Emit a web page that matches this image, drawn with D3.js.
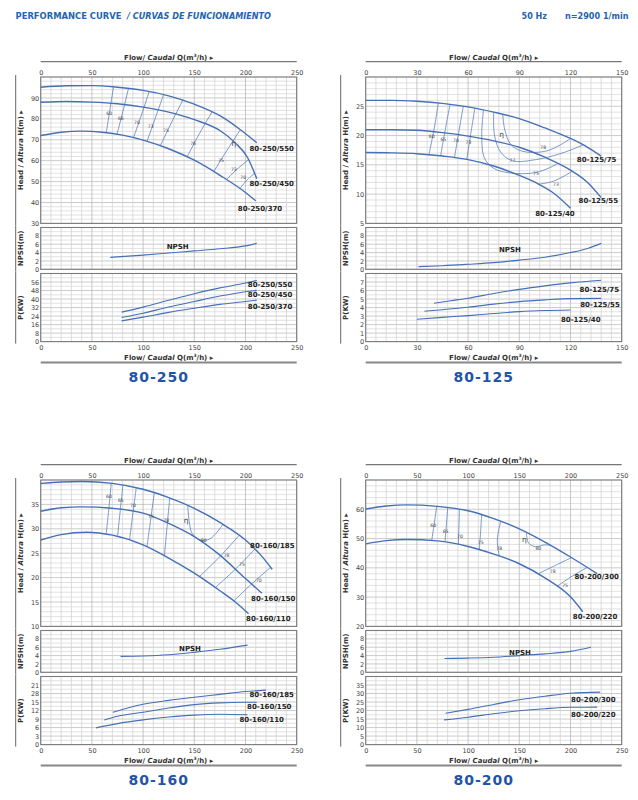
<!DOCTYPE html>
<html><head><meta charset="utf-8">
<script src="https://cdn.jsdelivr.net/npm/d3@7"></script>
<style>body{margin:0;background:#fff}svg{display:block}</style>
</head><body>
<svg id="c" width="638" height="800"></svg>
<script>
// ---------- tick labels ----------
const flowTicks250 = [0,50,100,150,200,250];
const flowTicks150 = [0,30,60,90,120,150];
const npshTicks = [0,2,4,6,8];
const headTicks_250 = [30,40,50,60,70,80,90];
const headTicks_125 = [5,10,15,20,25];
const headTicks_160 = [10,15,20,25,30,35];
const headTicks_200 = [20,30,40,50,60];
const powerTicks_250 = [0,8,16,24,32,40,48,56];
const powerTicks_125 = [0,1,2,3,4,5,6,7];
const powerTicks_160 = [0,3,6,9,12,15,18,21];
const powerTickLabels_160 = ["0","3","6","9","12","15","28","21"];
const powerTicks_200 = [0,5,10,15,20,25,30,35];

// ---------- 80-250 ----------
const names_250 = ["80-250/550","80-250/450","80-250/370"];
const head_250_550 = [[0,95.1],[25,95.8],[50,95.9],[75,95.1],[100,93.6],[125,91],[150,87],[175,81.5],[195,74.8],[211,68.6]];
const head_250_450 = [[0,87.9],[25,88.3],[50,88],[75,87.2],[100,85.6],[125,83.2],[150,79.6],[175,74.4],[190,68.5],[202,61.5],[211,51.4]];
const head_250_370 = [[0,72],[20,73.6],[40,74.1],[60,73.6],[80,72.2],[100,69.8],[125,65.7],[150,60.2],[175,53],[200,44.8],[210,40.8]];
const npsh_250 = [[68,2.86],[100,3.4],[125,3.9],[150,4.4],[175,4.9],[200,5.6],[211,6.2]];
const power_250_550 = [[79,27.7],[100,32.4],[125,38.8],[150,45],[175,50.5],[200,55],[211,57.5]];
const power_250_450 = [[79,22.6],[100,26.7],[125,32.5],[150,37.7],[175,42.8],[200,46.9],[211,48.1]];
const power_250_370 = [[79,19.5],[100,23],[125,27.5],[150,31.4],[175,35],[200,37.7],[211,39]];
const eff_250 = [
  [[71.1,95.3],[67.5,84],[64,73.4]],
  [[85.8,94.7],[80.3,83.5],[74.4,72.5]],
  [[106,93.1],[98.5,82],[90.7,71.1]],
  [[120,91.5],[112,80.5],[103.8,69.2]],
  [[139,89.1],[128,78.5],[116.8,67.1]],
  [[167.4,83.3],[155,73],[143,61.8]],
  [[195,74.8],[182,65],[169,54.8]],
  [[203,60.5],[192,56],[181.5,51]],
  [[209,54],[202,51],[194.5,46.6]]
];
const effLabels_250 = [[66.9,82.4,"60"],[78.3,80.3,"66"],[94,78.3,"70"],[107.4,76.3,"73"],[122.4,74.3,"75"],[148.8,68.4,"76"],[176.2,60.2,"75"],[188.6,55.9,"73"],[197.8,51.9,"70"],[188.6,68.4,"η"]];

// ---------- 80-125 ----------
const names_125 = ["80-125/75","80-125/55","80-125/40"];
const head_125_75 = [[0,26],[15,26],[30,25.85],[45,25.5],[60,24.9],[75,24],[90,22.9],[105,21.3],[120,19.5],[130,18],[138,16.5]];
const head_125_55 = [[0,21],[15,21],[30,20.9],[45,20.5],[60,19.9],[75,19.1],[90,18],[105,16.3],[120,14.1],[130,12],[138,9.4]];
const head_125_40 = [[0,17.1],[15,17.05],[30,16.9],[45,16.5],[60,15.9],[75,14.8],[90,13.2],[100,11.9],[110,10.2],[120,7.6]];
const npsh_125 = [[31,0.63],[45,0.85],[60,1.2],[75,1.6],[90,2.2],[105,2.9],[120,4],[130,5],[138,6.2]];
const power_125_75 = [[40,4.5],[50,4.8],[60,5.1],[75,5.65],[90,6.14],[105,6.55],[120,6.9],[138,7.2]];
const power_125_55 = [[34.4,3.56],[45,3.75],[60,4.03],[75,4.4],[90,4.7],[105,4.9],[120,5.05],[138,5.08]];
const power_125_40 = [[30,2.62],[45,2.85],[60,3.05],[75,3.3],[90,3.52],[105,3.65],[120,3.72]];
const eff_125 = [
  [[42.6,25.6],[40,21],[37.1,16.8]],
  [[49.4,25.3],[46.5,20.8],[43.9,16.6]],
  [[57.2,25],[54.5,20.5],[52,16.2]],
  [[64,24.7],[61.5,20.2],[59.2,15.9]],
  [[69,24.4],[68,20],[69.5,16.2],[75,14.4],[85,13.6],[100,13.7],[112,15.1]],
  [[75,24],[75.5,20],[79,17.2],[86,15.7],[100,15.9],[115,17],[127.5,18.4]],
  [[80.3,23.6],[81.5,21],[85,18.5],[92,17.3],[105,17.3],[114,18.4],[120,19.5]],
  [[101,11.7],[110,12.2],[121,13.9]]
];
const effLabels_125 = [[38.7,19.9,"60"],[45.5,19.3,"65"],[52.9,19.2,"70"],[60.2,18.75,"73"],[104,17.9,"78"],[86,15.8,"77"],[99.8,13.6,"75"],[111.5,11.7,"73"],[79.7,20.2,"η"]];

// ---------- 80-160 ----------
const names_160 = ["80-160/185","80-160/150","80-160/110"];
const head_160_185 = [[0,39.3],[20,39.6],[40,39.7],[70,39.3],[100,38.1],[125,36.4],[150,34.2],[175,31.3],[200,27.7],[215,24.6],[226,21.7]];
const head_160_150 = [[0,33.6],[20,34.3],[40,34.5],[70,34.2],[100,33.2],[125,31.1],[150,28.4],[175,24.6],[200,19.8],[216,16.8]];
const head_160_110 = [[0,27.7],[20,28.8],[45,29.3],[70,28.7],[100,26.7],[125,24],[150,20.9],[175,17.3],[190,15],[203,12.6]];
const npsh_160 = [[78,3.8],[100,3.9],[125,4.2],[150,4.8],[175,5.5],[202,6.5]];
const power_160_185 = [[70.5,11.4],[85,12.9],[100,14.2],[125,15.6],[150,16.7],[175,17.7],[200,18.7],[220,19.2]];
const power_160_150 = [[62,8.7],[75,10],[100,11.4],[125,12.9],[150,14.1],[175,14.7],[200,14.9],[211,14.9]];
const power_160_110 = [[54,5.9],[75,7.4],[100,8.7],[125,9.7],[150,10.4],[175,10.7],[202,10.5]];
const eff_160 = [
  [[68.9,39.35],[66.5,34],[64,29]],
  [[80.3,39],[77.7,33.8],[75.1,28.6]],
  [[93.3,38.4],[90,33.1],[86.8,27.8]],
  [[111,37.4],[107.4,31.9],[103.8,26.3]],
  [[126,36.3],[123.4,30.4],[120.8,24.5]],
  [[143.6,34.8],[145,31.5],[148,29],[155,27.8],[165,27.9],[178,30.9]],
  [[155,20.2],[175,24.3],[193.5,28.6]],
  [[170.7,18],[190,21.7],[209,25.8]],
  [[188.6,15.2],[205,18.5],[224.5,22.1]]
];
const effLabels_160 = [[66.6,36.7,"60"],[78.3,35.7,"65"],[90.1,34.7,"70"],[107.7,32.6,"75"],[122.7,31.6,"78"],[159.3,27.7,"80"],[181.5,24.6,"78"],[196.5,22.6,"75"],[213,19.5,"70"],[142,31.7,"η"]];

// ---------- 80-200 ----------
const names_200 = ["80-200/300","80-200/220"];
const head_200_300 = [[0,60.1],[20,61.1],[40,61.5],[70,61],[100,59.5],[125,56.8],[150,53.3],[175,48.8],[200,43.7],[226,38]];
const head_200_220 = [[0,48.2],[20,49.3],[40,49.7],[70,49.2],[100,47.3],[125,44.7],[150,41.4],[175,36.6],[200,30.1],[212,25]];
const npsh_200 = [[77,3.3],[100,3.4],[125,3.6],[150,4],[175,4.4],[200,5],[220,6]];
const power_200_300 = [[78,18.4],[100,20.7],[125,23.6],[150,26.3],[175,28.4],[200,30.2],[229,30.8]];
const power_200_220 = [[76.5,14.5],[100,16.1],[125,18.1],[150,19.9],[175,21.1],[200,21.9],[226,22]];
const eff_200 = [
  [[69.3,61],[67,55.2],[64.5,49.4]],
  [[80.1,60.6],[78.8,54.8],[77.5,49]],
  [[91.5,60],[91,53.9],[90.5,47.9]],
  [[113.3,58.3],[112.2,52.3],[111,46.2]],
  [[131.8,55.9],[128.5,49.4],[130.5,44]],
  [[157,51.8],[159,48.5],[166,47.2],[174,47.8],[181,47.7]],
  [[168.6,38],[185,40.8],[201,43.5]],
  [[186.5,33.6],[200,36.8],[216,40.1]]
];
const effLabels_200 = [[66,54.5,"60"],[78,52.5,"65"],[92,50.7,"70"],[112.3,48.7,"75"],[130.5,46.7,"78"],[168.6,46.5,"80"],[182.6,38.6,"78"],[194.7,33.8,"75"],[155,49.6,"η"]];

// ---------- panel layout ----------
const panels = [
  {title:"80-250", left:40.7, top:77, xDomain:[0,250], xTicks:flowTicks250,
   headDomain:[30,100], headTicks:headTicks_250, headStep:2,
   powerDomain:[0,64], powerTicks:powerTicks_250, powerLabels:powerTicks_250.map(String), powerStep:4,
   heads:[head_250_550,head_250_450,head_250_370], names:names_250,
   headLabelPos:[[225.6,65.4],[225.6,48.7],[214.2,36.7]],
   npsh:npsh_250, npshLabelPos:[133.8,5.3],
   powers:[power_250_550,power_250_450,power_250_370], powerLabelPos:[[224,52.9],[224,43.5],[224,32.2]],
   eff:eff_250, effLabels:effLabels_250},
  {title:"80-125", left:365.7, top:77, xDomain:[0,150], xTicks:flowTicks150,
   headDomain:[5,30], headTicks:headTicks_125, headStep:1,
   powerDomain:[0,8], powerTicks:powerTicks_125, powerLabels:powerTicks_125.map(String), powerStep:0.5,
   heads:[head_125_75,head_125_55,head_125_40], names:names_125,
   headLabelPos:[[135.3,15.8],[136.3,8.8],[110.9,6.6]],
   npsh:npsh_125, npshLabelPos:[84.5,4.6],
   powers:[power_125_75,power_125_55,power_125_40], powerLabelPos:[[136.9,6.05],[137.3,4.26],[126,2.54]],
   eff:eff_125, effLabels:effLabels_125},
  {title:"80-160", left:40.7, top:480, xDomain:[0,250], xTicks:flowTicks250,
   headDomain:[10,40], headTicks:headTicks_160, headStep:1,
   powerDomain:[0,24], powerTicks:powerTicks_160, powerLabels:powerTickLabels_160, powerStep:1.5,
   heads:[head_160_185,head_160_150,head_160_110], names:names_160,
   headLabelPos:[[226.2,26.5],[227.1,15.55],[222.3,11.5]],
   npsh:npsh_160, npshLabelPos:[145.8,5.65],
   powers:[power_160_185,power_160_150,power_160_110], powerLabelPos:[[225.6,17.4],[223.2,13.2],[215.8,8.6]],
   eff:eff_160, effLabels:effLabels_160},
  {title:"80-200", left:365.7, top:480, xDomain:[0,250], xTicks:flowTicks250,
   headDomain:[20,70], headTicks:headTicks_200, headStep:2,
   powerDomain:[0,40], powerTicks:powerTicks_200, powerLabels:powerTicks_200.map(String), powerStep:2.5,
   heads:[head_200_300,head_200_220], names:names_200,
   headLabelPos:[[225.6,36.8],[224,23.3]],
   npsh:npsh_200, npshLabelPos:[150.7,4.7],
   powers:[power_200_300,power_200_220], powerLabelPos:[[222.3,26.2],[222.3,17.5]],
   eff:eff_200, effLabels:effLabels_200}
];

const svg = d3.select("#c");
const W = 256;
const FONT = "'DejaVu Sans', Verdana, sans-serif";
const BLUE = "#4570b6";

// header
const hdr = svg.append("g").attr("font-family", FONT).attr("font-weight","bold").attr("fill","#2364b4").attr("font-size",9);
hdr.append("text").attr("x",15.5).attr("y",19).attr("textLength",106).attr("lengthAdjust","spacingAndGlyphs").text("PERFORMANCE CURVE");
hdr.append("text").attr("x",127).attr("y",19).attr("font-style","italic").attr("textLength",144).attr("lengthAdjust","spacingAndGlyphs").text("/ CURVAS DE FUNCIONAMIENTO");
hdr.append("text").attr("x",521.6).attr("y",19).attr("textLength",25.4).attr("lengthAdjust","spacingAndGlyphs").text("50 Hz");
hdr.append("text").attr("x",565).attr("y",19).attr("textLength",63.6).attr("lengthAdjust","spacingAndGlyphs").text("n=2900 1/min");

function flowTitle(g, cx, y){
  const t = g.append("text").attr("x",cx).attr("y",y).attr("text-anchor","middle")
    .attr("font-family",FONT).attr("font-size",7).attr("font-weight","bold").attr("fill","#333");
  t.append("tspan").text("Flow/ ");
  t.append("tspan").attr("font-style","italic").text("Caudal");
  t.append("tspan").text(" Q(m");
  t.append("tspan").attr("font-size",4.5).attr("dy",-2.5).text("3");
  t.append("tspan").attr("dy",2.5).text("/h) ▸");
}

function draw(p){
  const g = svg.append("g");
  const x = d3.scaleLinear().domain(p.xDomain).range([p.left, p.left+W]);
  const cx = p.left + W/2;
  const subs = [
    {top:p.top, bottom:p.top+146.4, domain:p.headDomain, ticks:p.headTicks, labels:p.headTicks.map(String), step:p.headStep, kind:"head"},
    {top:p.top+150.5, bottom:p.top+192.3, domain:[0,10], ticks:npshTicks, labels:npshTicks.map(String), step:1, kind:"npsh"},
    {top:p.top+196.5, bottom:p.top+264.6, domain:p.powerDomain, ticks:p.powerTicks, labels:p.powerLabels, step:p.powerStep, kind:"power"}
  ];
  const xs = d3.range(0,26).map(i => p.xDomain[0] + i*(p.xDomain[1]-p.xDomain[0])/25);
  subs.forEach(s => {
    s.y = d3.scaleLinear().domain(s.domain).range([s.bottom, s.top]);
    const n = Math.round((s.domain[1]-s.domain[0])/s.step);
    const ys = d3.range(0,n+1).map(i => s.domain[0] + i*s.step);
    const gg = g.append("g");
    gg.selectAll("line.h").data(ys).join("line")
      .attr("x1",p.left).attr("x2",p.left+W)
      .attr("y1",d=>s.y(d)).attr("y2",d=>s.y(d))
      .attr("stroke",d=> s.ticks.some(t=>Math.abs(t-d)<1e-6) ? "#b4b4b4" : "#d6d6d6")
      .attr("stroke-width",0.7);
    gg.selectAll("line.v").data(xs).join("line")
      .attr("y1",s.top).attr("y2",s.bottom)
      .attr("x1",d=>x(d)).attr("x2",d=>x(d))
      .attr("stroke",d=> p.xTicks.some(t=>Math.abs(t-d)<1e-6) ? "#b0b0b0" : "#d0d0d0")
      .attr("stroke-width",0.7);
    gg.append("rect").attr("x",p.left).attr("y",s.top).attr("width",W).attr("height",s.bottom-s.top)
      .attr("fill","none").attr("stroke","#7c7c7c").attr("stroke-width",1.1);
    const ax = g.append("g").attr("transform",`translate(${p.left},0)`)
      .call(d3.axisLeft(s.y).tickValues(s.ticks).tickFormat((d,i)=>s.labels[i]).tickSize(0).tickPadding(1.5));
    ax.select(".domain").remove();
    ax.selectAll("text").attr("font-family",FONT).attr("font-size",6.5).attr("fill","#444");
    g.append("line").attr("x1",p.left-25).attr("x2",p.left-25).attr("y1",s.top-2).attr("y2",s.bottom+2)
      .attr("stroke","#666").attr("stroke-width",1);
    const tt = g.append("text").attr("transform",`translate(${p.left-18},${(s.top+s.bottom)/2}) rotate(-90)`)
      .attr("text-anchor","middle").attr("font-family",FONT).attr("font-size",7).attr("font-weight","bold").attr("fill","#333");
    if (s.kind==="head"){
      tt.append("tspan").text("Head / ");
      tt.append("tspan").attr("font-style","italic").text("Altura");
      tt.append("tspan").text(" H(m) ▸");
    } else if (s.kind==="npsh"){
      tt.text("NPSH(m)");
    } else {
      tt.text("P(KW)");
    }
  });
  const [H, N, P] = subs;
  const at = g.append("g").attr("transform",`translate(0,${p.top})`)
    .call(d3.axisTop(x).tickValues(p.xTicks).tickSize(0).tickPadding(2));
  at.select(".domain").remove();
  at.selectAll("text").attr("font-family",FONT).attr("font-size",6.5).attr("fill","#444");
  const ab = g.append("g").attr("transform",`translate(0,${P.bottom})`)
    .call(d3.axisBottom(x).tickValues(p.xTicks).tickSize(0).tickPadding(3.5));
  ab.select(".domain").remove();
  ab.selectAll("text").attr("font-family",FONT).attr("font-size",6.5).attr("fill","#444");
  flowTitle(g, cx, p.top-17.5);
  g.append("line").attr("x1",p.left).attr("x2",p.left+W).attr("y1",p.top-15.3).attr("y2",p.top-15.3).attr("stroke","#777").attr("stroke-width",1.2);
  flowTitle(g, cx, P.bottom+18.3);
  g.append("line").attr("x1",p.left).attr("x2",p.left+W).attr("y1",P.bottom+21).attr("y2",P.bottom+21).attr("stroke","#888").attr("stroke-width",2);
  g.append("text").attr("x",cx-10).attr("y",P.bottom+40).attr("text-anchor","middle")
    .attr("font-family",FONT).attr("font-weight","bold").attr("font-size",14).attr("letter-spacing",1)
    .attr("fill","#1f55a8").text(p.title);

  const smooth = (ys) => d3.line().x(d=>x(d[0])).y(d=>ys(d[1])).curve(d3.curveMonotoneX);
  const bend = (ys) => d3.line().x(d=>x(d[0])).y(d=>ys(d[1])).curve(d3.curveCatmullRom.alpha(0.5));
  const cg = g.append("g").attr("fill","none");
  cg.selectAll("path.eff").data(p.eff).join("path").attr("d",bend(H.y))
    .attr("stroke",BLUE).attr("stroke-width",0.7);
  g.selectAll("text.eff").data(p.effLabels).join("text")
    .attr("x",d=>x(d[0])).attr("y",d=>H.y(d[1])).attr("text-anchor","middle").attr("dominant-baseline","central")
    .attr("font-family",FONT).attr("font-size",d=>d[2]==="η"?7.5:4.6).attr("fill","#444").text(d=>d[2]);
  cg.selectAll("path.head").data(p.heads).join("path").attr("d",smooth(H.y))
    .attr("stroke",BLUE).attr("stroke-width",1.4);
  g.selectAll("text.hl").data(p.names).join("text")
    .attr("x",(d,i)=>x(p.headLabelPos[i][0])).attr("y",(d,i)=>H.y(p.headLabelPos[i][1]))
    .attr("text-anchor","middle").attr("dominant-baseline","central")
    .attr("font-family",FONT).attr("font-size",7).attr("font-weight","bold").attr("fill","#222").text(d=>d);
  g.append("path").datum(p.npsh).attr("d",smooth(N.y)).attr("fill","none").attr("stroke",BLUE).attr("stroke-width",1.1);
  g.append("text").attr("x",x(p.npshLabelPos[0])).attr("y",N.y(p.npshLabelPos[1]))
    .attr("text-anchor","middle").attr("dominant-baseline","central")
    .attr("font-family",FONT).attr("font-size",7).attr("font-weight","bold").attr("fill","#222").text("NPSH");
  g.append("g").attr("fill","none").selectAll("path").data(p.powers).join("path").attr("d",smooth(P.y))
    .attr("stroke",BLUE).attr("stroke-width",1.1);
  g.selectAll("text.pl").data(p.names).join("text")
    .attr("x",(d,i)=>x(p.powerLabelPos[i][0])).attr("y",(d,i)=>P.y(p.powerLabelPos[i][1]))
    .attr("text-anchor","middle").attr("dominant-baseline","central")
    .attr("font-family",FONT).attr("font-size",7).attr("font-weight","bold").attr("fill","#222").text(d=>d);
}
panels.forEach(draw);
</script>
</body></html>
